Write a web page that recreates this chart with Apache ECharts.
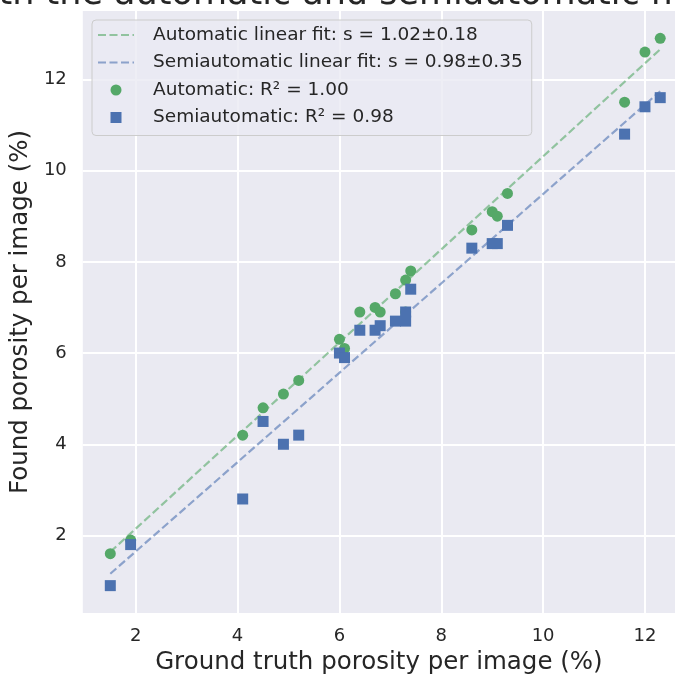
<!DOCTYPE html>
<html>
<head>
<meta charset="utf-8">
<script src="https://cdn.jsdelivr.net/npm/echarts@6/dist/echarts.min.js"></script>
<style>
  html, body { margin: 0; padding: 0; background: #fff; }
  #chart { width: 675px; height: 680px; }
</style>
</head>
<body>
<div id="chart"></div>
<script>
// ground truth porosity per image (%)
const groundTruth = [1.5, 1.9, 4.1, 4.5, 4.9, 5.2, 6.0, 6.1, 6.4, 6.7, 6.8, 7.1, 7.3, 7.3, 7.4, 8.6, 9.0, 9.1, 9.3, 11.6, 12.0, 12.3];
// found porosity, automatic method
const automatic = [1.6, 1.9, 4.2, 4.8, 5.1, 5.4, 6.3, 6.1, 6.9, 7.0, 6.9, 7.3, 7.6, 6.9, 7.8, 8.7, 9.1, 9.0, 9.5, 11.5, 12.6, 12.9];
// found porosity, semiautomatic method
const semiautomatic = [0.9, 1.8, 2.8, 4.5, 4.0, 4.2, 6.0, 5.9, 6.5, 6.5, 6.6, 6.7, 6.7, 6.9, 7.4, 8.3, 8.4, 8.4, 8.8, 10.8, 11.4, 11.6];

// fitted lines (end points)
const fitX = [1.5, 12.3];
const autoFitY = [1.64, 12.66];
const semiFitY = [1.16, 11.74];

const ticks = [2, 4, 6, 8, 10, 12];

const names = {
  autoFit: 'Automatic linear fit: s = 1.02±0.18',
  semiFit: 'Semiautomatic linear fit: s = 0.98±0.35',
  auto: 'Automatic: R² = 1.00',
  semi: 'Semiautomatic: R² = 0.98'
};

const zip = (xs, ys) => xs.map((x, i) => [x, ys[i]]);

const txt = '#262626';
const font = 'DejaVu Sans';

const chart = echarts.init(document.getElementById('chart'));

const option = {
  animation: false,
  textStyle: { fontFamily: font, color: txt },
  // title is cut off by the top edge in the original figure
  title: {
    text: 'Comparison of found porosity with the automatic and semiautomatic methods',
    left: -569,
    top: -23,
    padding: 0,
    textStyle: { fontFamily: font, fontSize: 35, fontWeight: 'normal', color: txt }
  },
  grid: {
    left: 82,
    right: 0,
    top: 11,
    bottom: 67,
    show: true,
    backgroundColor: '#eaeaf2',
    borderWidth: 0
  },
  legend: {
    orient: 'vertical',
    left: 92,
    top: 20,
    padding: [5, 9, 8, 5],
    itemWidth: 36,
    itemHeight: 11,
    itemGap: 7.5,
    backgroundColor: 'rgba(234,234,242,0.8)',
    borderColor: '#cccccc',
    borderWidth: 1,
    borderRadius: 4,
    textStyle: { fontFamily: font, fontSize: 18.5, color: txt, lineHeight: 20, padding: [0, 0, 0, 14] },
    data: [
      { name: names.autoFit, itemStyle: { opacity: 0 } },
      { name: names.semiFit, itemStyle: { opacity: 0 } },
      { name: names.auto, icon: 'circle' },
      { name: names.semi, icon: 'path://M0,0M36,11M12.5,0H23.5V11H12.5Z' }
    ]
  },
  xAxis: {
    type: 'value',
    min: 0.96,
    max: 12.59,
    name: 'Ground truth porosity per image (%)',
    nameLocation: 'middle',
    nameGap: 36,
    nameTextStyle: { fontFamily: font, fontSize: 24.5, color: txt },
    axisLine: { show: false },
    axisTick: { show: false, customValues: ticks },
    axisLabel: { customValues: ticks, fontFamily: font, fontSize: 18, color: txt, margin: 14 },
    splitLine: { show: true, lineStyle: { color: '#ffffff', width: 2 } }
  },
  yAxis: {
    type: 'value',
    min: 0.3,
    max: 13.5,
    name: 'Found porosity per image (%)',
    nameLocation: 'middle',
    nameGap: 42,
    nameTextStyle: { fontFamily: font, fontSize: 24.5, color: txt },
    axisLine: { show: false },
    axisTick: { show: false, customValues: ticks },
    axisLabel: { customValues: ticks, fontFamily: font, fontSize: 18, color: txt, margin: 16 },
    splitLine: { show: true, lineStyle: { color: '#ffffff', width: 2 } }
  },
  series: [
    {
      name: names.autoFit,
      type: 'line',
      data: zip(fitX, autoFitY),
      symbol: 'none',
      z: 2,
      itemStyle: { color: 'rgba(85,168,104,0.6)' },
      lineStyle: { color: 'rgba(85,168,104,0.6)', width: 2.2, type: [8, 3.5] }
    },
    {
      name: names.semiFit,
      type: 'line',
      data: zip(fitX, semiFitY),
      symbol: 'none',
      z: 2,
      itemStyle: { color: 'rgba(76,114,176,0.6)' },
      lineStyle: { color: 'rgba(76,114,176,0.6)', width: 2.2, type: [8, 3.5] }
    },
    {
      name: names.auto,
      type: 'scatter',
      data: zip(groundTruth, automatic),
      symbol: 'circle',
      symbolSize: 11,
      z: 3,
      itemStyle: { color: '#55a868', opacity: 1 }
    },
    {
      name: names.semi,
      type: 'scatter',
      data: zip(groundTruth, semiautomatic),
      symbol: 'rect',
      symbolSize: 11,
      z: 4,
      itemStyle: { color: '#4c72b0', opacity: 1 }
    }
  ]
};

chart.setOption(option);
</script>
</body>
</html>
